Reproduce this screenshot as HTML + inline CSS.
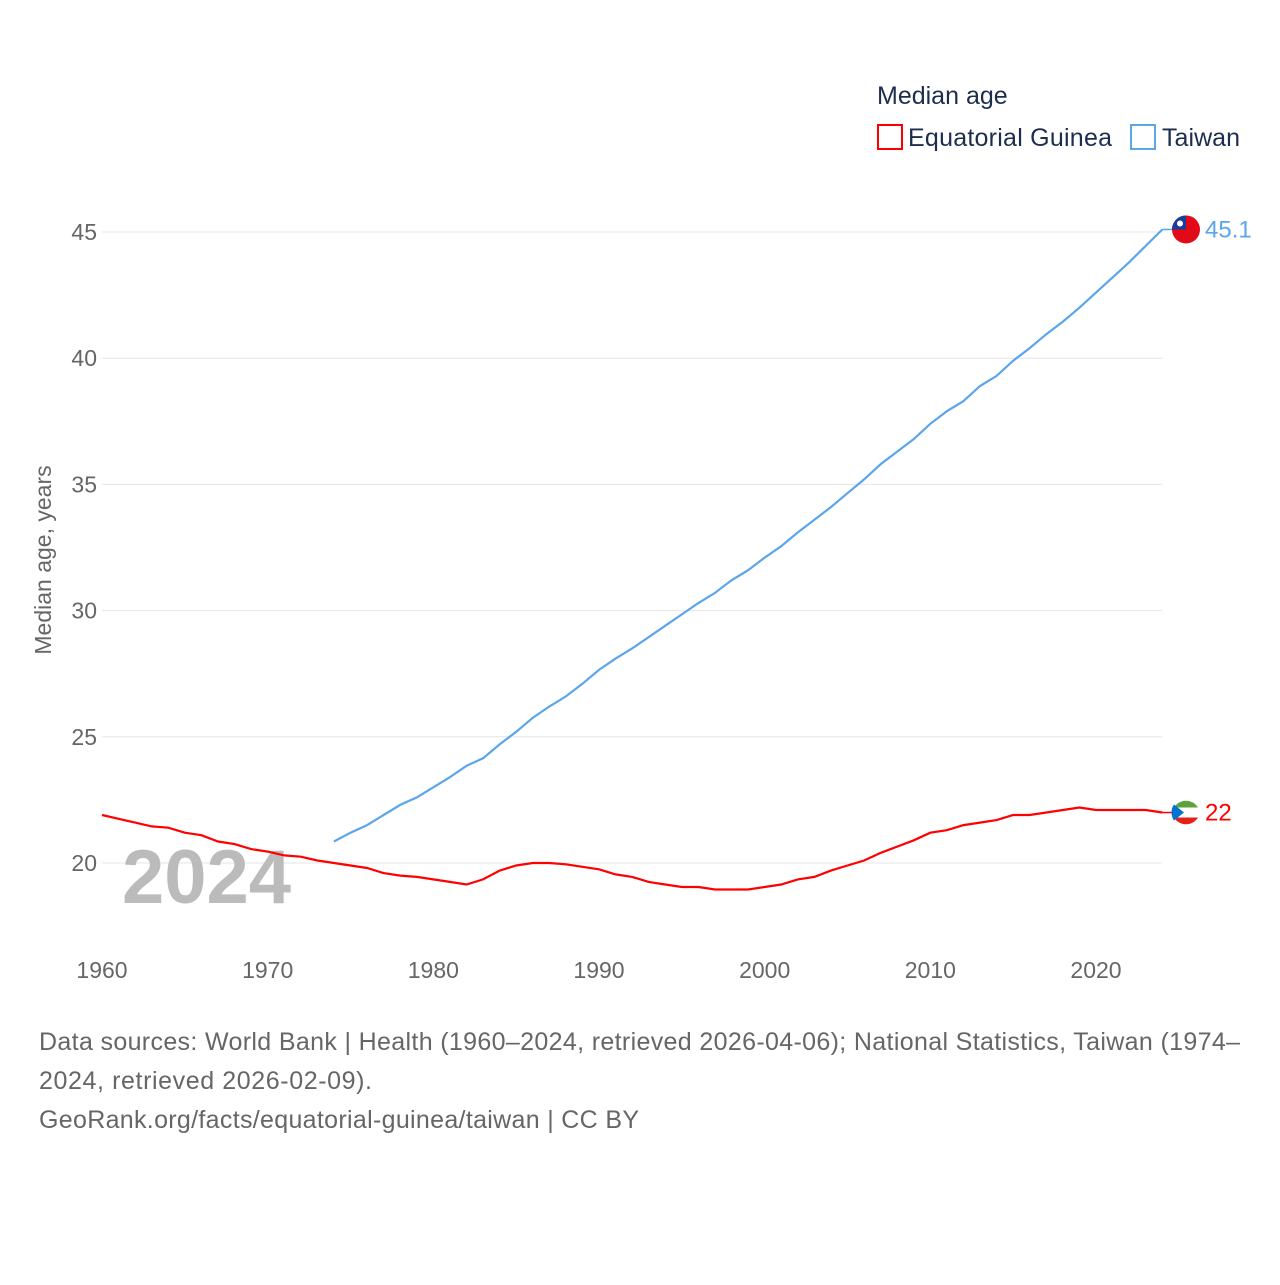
<!DOCTYPE html>
<html><head><meta charset="utf-8"><style>
body{margin:0;background:#fff;width:1280px;height:1280px;overflow:hidden}
svg text{font-family:"Liberation Sans",sans-serif}
</style></head><body>
<svg width="1280" height="1280">
<g id="grid"></g><g id="yt"></g><g id="xt"></g>
<text x="122" y="903" font-size="76" font-weight="bold" fill="#bbb">2024</text>
<text transform="translate(51,560) rotate(-90)" text-anchor="middle" font-size="23" fill="#666">Median age, years</text>
<g id="series"></g>
<text x="877" y="104" font-size="25" fill="#1d2d4d">Median age</text>
<g><rect x="878" y="125" width="24" height="24" fill="none" stroke="#f00" stroke-width="2"/><text x="908" y="146" font-size="25" fill="#1d2d4d" textLength="204">Equatorial Guinea</text></g>
<g><rect x="1131" y="125" width="24" height="24" fill="none" stroke="#5aa5ec" stroke-width="2"/><text x="1162" y="146" font-size="25" fill="#1d2d4d" textLength="78">Taiwan</text></g>
<g font-size="25" fill="#666">
<text x="39" y="1050" textLength="1201">Data sources: World Bank | Health (1960–2024, retrieved 2026-04-06); National Statistics, Taiwan (1974–</text>
<text x="39" y="1089" textLength="333">2024, retrieved 2026-02-09).</text>
<text x="39" y="1128" textLength="600">GeoRank.org/facts/equatorial-guinea/taiwan | CC BY</text></g>
</svg>
<script>
const yTicks=[20,25,30,35,40,45];
const xTicks=[1960,1970,1980,1990,2000,2010,2020];
const gqYears=[];for(let y=1960;y<=2024;y++)gqYears.push(y);
const gqValues=[21.9,21.75,21.6,21.45,21.4,21.2,21.1,20.85,20.75,20.55,20.45,20.3,20.25,20.1,20.0,19.9,19.8,19.6,19.5,19.45,19.35,19.25,19.15,19.35,19.7,19.9,20.0,20.0,19.95,19.85,19.75,19.55,19.45,19.25,19.15,19.05,19.05,18.95,18.95,18.95,19.05,19.15,19.35,19.45,19.7,19.9,20.1,20.4,20.65,20.9,21.2,21.3,21.5,21.6,21.7,21.9,21.9,22.0,22.1,22.2,22.1,22.1,22.1,22.1,22.0];
const twYears=[];for(let y=1974;y<=2024;y++)twYears.push(y);
const twValues=[20.85,21.2,21.5,21.9,22.3,22.6,23.0,23.4,23.85,24.15,24.7,25.2,25.75,26.2,26.6,27.1,27.65,28.1,28.5,28.95,29.4,29.85,30.3,30.7,31.2,31.6,32.1,32.55,33.1,33.6,34.1,34.65,35.2,35.8,36.3,36.8,37.4,37.9,38.3,38.9,39.3,39.9,40.4,40.95,41.45,42.0,42.6,43.2,43.8,44.45,45.1];
const NS="http://www.w3.org/2000/svg";
const X=y=>102+(y-1960)*(1096-102)/60;
const Y=v=>863-(v-20)*(863-232)/25;
function mk(t,a,p){const e=document.createElementNS(NS,t);for(const k in a)e.setAttribute(k,a[k]);p.appendChild(e);return e;}
const grid=document.getElementById('grid'),yt=document.getElementById('yt'),xt=document.getElementById('xt'),ser=document.getElementById('series');
yTicks.forEach(v=>{
 const l=mk('line',{x1:102,x2:1162,y1:Y(v),y2:Y(v),stroke:'#e6e6e6','stroke-width':1},grid);
 
 
 const t=mk('text',{x:97,y:Y(v)+8,'text-anchor':'end','font-size':23,fill:'#666'},yt);t.textContent=v;
 
 
});
xTicks.forEach(v=>{
 const t=mk('text',{x:X(v),y:978,'text-anchor':'middle','font-size':23,fill:'#666'},xt);t.textContent=v;
 
 
});
function line(years,vals,col,name,label){
 const d=years.map((y,i)=>(i?'L':'M')+X(y).toFixed(1)+','+Y(vals[i]).toFixed(1)).join('');
 const p=mk('path',{d:d,fill:'none',stroke:col,'stroke-width':2.2},ser);
 
 
 const lv=vals[vals.length-1],ly=Y(lv);
 mk('line',{x1:X(years[years.length-1]),x2:1174,y1:ly,y2:ly,stroke:col,'stroke-width':1.5},ser);
 const t=mk('text',{x:1205,y:ly+8,'font-size':24,fill:col},ser);t.textContent=label;
 
 
 return ly;
}
const gy=line(gqYears,gqValues,'#f00','equatorial-guinea','22');
const ty=line(twYears,twValues,'#5aa5ec','taiwan','45.1');
let g=mk('g',{},ser);
mk('circle',{cx:1186,cy:ty,r:14,fill:'#e30a17'},g);
mk('path',{d:`M1172,${ty} A14,14 0 0 1 1186,${ty-14} L1186,${ty} Z`,fill:'#1a3c9c'},g);
mk('circle',{cx:1180,cy:ty-6,r:3,fill:'#fff'},g);
g=mk('g',{},ser);
mk('circle',{cx:1186,cy:gy,r:14,fill:'#fff'},g);
mk('path',{d:`M1174,${gy-5} A14,14 0 0 1 1198,${gy-5} Z`,fill:'#5ca13a'},g);
mk('path',{d:`M1174,${gy+5} A14,14 0 0 0 1198,${gy+5} Z`,fill:'#e32118'},g);
mk('path',{d:`M1174,${gy-8} L1184,${gy} L1174,${gy+8} A14,14 0 0 1 1174,${gy-8}Z`,fill:'#0073ce'},g);
</script>
</body></html>
